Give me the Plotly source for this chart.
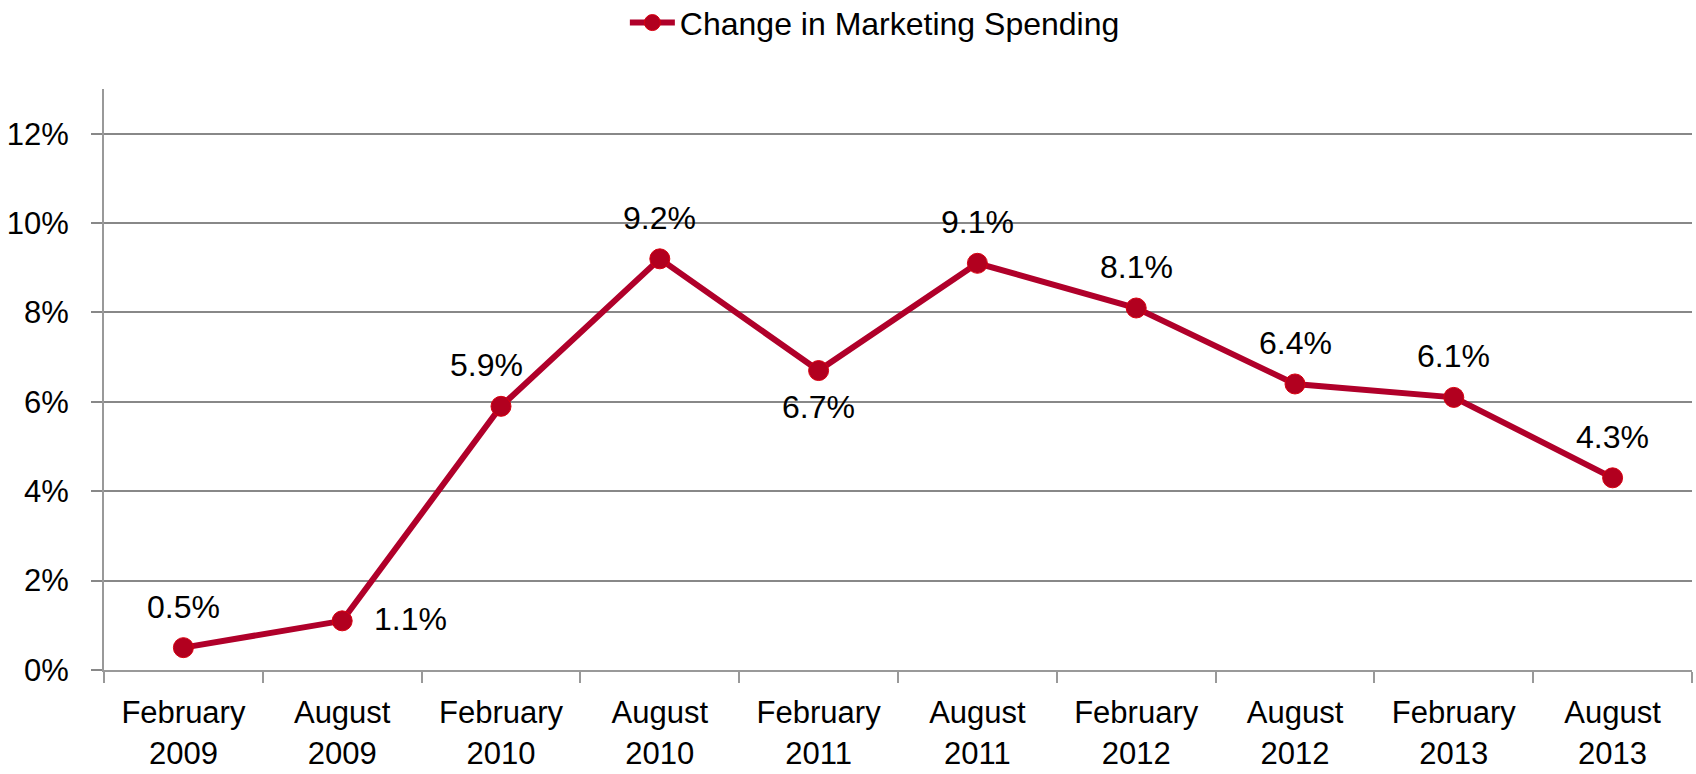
import plotly.graph_objects as go

categories = ["February<br>2009", "August<br>2009", "February<br>2010", "August<br>2010",
              "February<br>2011", "August<br>2011", "February<br>2012", "August<br>2012",
              "February<br>2013", "August<br>2013"]
values = [0.005, 0.011, 0.059, 0.092, 0.067, 0.091, 0.081, 0.064, 0.061, 0.043]
labels = ["0.5%", "1.1%", "5.9%", "9.2%", "6.7%", "9.1%", "8.1%", "6.4%", "6.1%", "4.3%"]
series_name = "Change in Marketing Spending"
ytick_vals = [0, 0.02, 0.04, 0.06, 0.08, 0.10, 0.12]
ytick_text = ["0%", "2%", "4%", "6%", "8%", "10%", "12%"]

# label placement (where each data label sits relative to its point)
label_side = ["above", "right", "above", "above", "below",
              "above", "above", "above", "above", "above"]
label_dx = [0, 0, -15, 0, 0, 0, 0, 0, 0, 0]

FONT = "Liberation Sans Narrow, Arial Narrow, Liberation Sans, Arial, sans-serif"
RED = "#B0002A"

fig = go.Figure()
fig.add_trace(go.Scatter(
    x=categories, y=values, name=series_name,
    mode="lines+markers",
    line=dict(color=RED, width=6),
    marker=dict(color="#B2001F", size=20, line=dict(color="#D80010", width=1)),
    cliponaxis=False,
))

for xc, yv, lab, side, dx in zip(categories, values, labels, label_side, label_dx):
    if side == "above":
        kw = dict(xanchor="center", yanchor="middle", xshift=dx, yshift=41)
    elif side == "below":
        kw = dict(xanchor="center", yanchor="middle", xshift=dx, yshift=-36)
    else:
        kw = dict(xanchor="left", yanchor="middle", xshift=30 + dx, yshift=2)
    fig.add_annotation(x=xc, y=yv, xref="x", yref="y", text=lab, showarrow=False,
                       font=dict(size=32, color="#000000", family=FONT), **kw)

fig.update_layout(
    width=1696, height=774,
    margin=dict(l=104, r=4, t=89, b=104, autoexpand=False),
    paper_bgcolor="white", plot_bgcolor="white",
    font=dict(family=FONT, size=31, color="#000000"),
    showlegend=True,
    legend=dict(orientation="h", x=0.328, xanchor="left", y=1.114, yanchor="middle",
                itemwidth=45,
                font=dict(size=32, family=FONT), bgcolor="rgba(0,0,0,0)"),
    xaxis=dict(
        type="category", showgrid=False, automargin=False,
        showline=True, linecolor="#999999", linewidth=2,
        ticks="outside", tickson="boundaries", ticklen=11, tickwidth=2, tickcolor="#999999",
        tickfont=dict(size=31, family=FONT), ticklabelstandoff=14,
        range=[-0.5, 9.5],
    ),
    yaxis=dict(
        range=[0, 0.13], tickvals=ytick_vals, ticktext=ytick_text, automargin=False,
        showgrid=True, gridcolor="#888888", gridwidth=2,
        showline=True, linecolor="#999999", linewidth=2,
        ticks="outside", ticklen=11, tickwidth=2, tickcolor="#888888",
        tickfont=dict(size=31, family=FONT),
        ticklabelstandoff=16, zeroline=False,
    ),
)

fig.write_html("out.html", config={"displayModeBar": False},
               post_script="document.body.style.margin='0';document.body.style.overflow='hidden';")
